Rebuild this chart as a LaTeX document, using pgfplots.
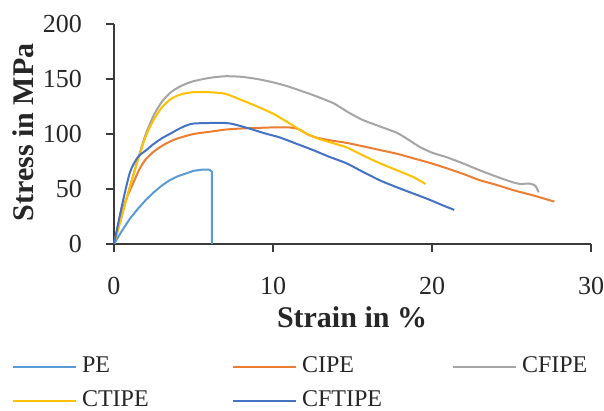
\documentclass[border=0pt]{standalone}
\usepackage{fontspec}
\setmainfont{Liberation Serif}
\usepackage{pgfplots}
\pgfplotsset{compat=1.18}
\definecolor{cPE}{HTML}{5B9BD5}
\definecolor{cCIPE}{HTML}{ED7D31}
\definecolor{cCFIPE}{HTML}{A5A5A5}
\definecolor{cCTIPE}{HTML}{FFC000}
\definecolor{cCFTIPE}{HTML}{4472C4}
\definecolor{axcol}{HTML}{3A3A3A}
\begin{document}
\begin{tikzpicture}
\begin{axis}[
  at={(0,0)}, anchor=south west,
  scale only axis, width=477pt, height=220pt,
  xmin=0, xmax=30, ymin=0, ymax=200,
  axis lines*=left,
  axis line style={line width=1.2pt, color=axcol},
  tick align=outside, tick pos=left,
  major tick length=8pt,
  tick style={line width=1.2pt, color=axcol},
  xtick={0,10,20,30}, ytick={0,50,100,150,200},
  /pgf/number format/assume math mode=true,
  ticklabel style={font=\fontsize{26}{28}\selectfont, text=black!85, inner sep=0pt},
  xticklabel style={anchor=north, yshift=-25pt},
  yticklabel style={anchor=east, xshift=-24pt},
  xlabel={Strain in \%},
  ylabel={Stress in MPa},
  label style={font=\fontsize{30}{32}\selectfont\bfseries, text=black!85, inner sep=0pt},
  xlabel style={at={(0.499,-0.3818)}, anchor=base},
  ylabel style={at={(-0.1698,0.507)}, anchor=base, rotate=0},
  legend columns=3,
  legend cell align=left,
  legend style={at={(-0.2138,-0.5318)}, anchor=north west, draw=none, fill=none,
    inner sep=0pt, outer sep=0pt, font=\fontsize{24}{26}\selectfont, text=black!85,
    row sep=22pt, nodes={inner sep=0pt, text height=12pt, text depth=0pt},
    /tikz/every odd column/.append style={column sep=5pt},
    /tikz/every even column/.append style={column sep=0pt}},
  legend image code/.code={\draw[#1] (0pt,0pt) -- (63pt,0pt);},
  every axis plot/.append style={line width=2pt, line join=round},
]
\addplot[cPE] coordinates {(0,0)(0.5,12)(1,23)(1.5,32)(2,40)(2.5,47)(3,53)(3.5,58)(4,61.5)(4.5,64)(5,66.5)(5.5,67.5)(6,67.5)(6.15,66)(6.15,0)};
\addlegendentry{\makebox[150pt][l]{PE}}
\addplot[cCIPE, smooth, tension=0.4] coordinates {(0,0)(0.4,25)(0.8,42)(1.2,55)(1.6,68)(2,77)(2.5,84)(3,89)(3.5,93)(4,96)(5,100)(6,102)(7,104)(8,105)(9,105.5)(10,106)(11,106)(11.6,104.5)(12.2,99.5)(12.8,96.5)(13.7,94)(14.6,92)(15.6,89)(16.7,85.5)(17.8,82)(18.8,78)(19.8,74)(20.9,69)(22,63.5)(23,58)(24,54)(25.1,49)(26.4,44)(27.7,38.5)};
\addlegendentry{\makebox[150pt][l]{CIPE}}
\addplot[cCFIPE, smooth, tension=0.4] coordinates {(0,0)(0.5,26)(1,52)(1.5,77)(2,100)(2.5,117)(3,129)(3.5,137)(4,142)(4.5,145.5)(5,148)(6,151)(7,152.5)(8,152)(9,150)(10,147)(11,143)(12,138)(12.5,135.5)(13.8,128)(14.7,120)(15.6,113)(16.7,107)(17.8,101)(18.5,95)(19.2,88.5)(20,83)(20.9,79)(22,73)(23,67)(24.1,61)(25.1,56)(25.6,54.5)(26.1,55)(26.5,53)(26.7,47)};
\addlegendentry{\makebox[150pt][l]{CFIPE}}
\addplot[cCTIPE, smooth, tension=0.4] coordinates {(0,0)(0.5,26)(1,52)(1.5,76)(2,98)(2.5,113)(3,124)(3.5,131)(4,135)(4.5,137)(5,138)(6,138)(7,136.5)(8,131)(9,125)(10,118.5)(11,110)(12,101)(12.8,96)(13.7,92)(14.6,88)(15.6,81)(16.7,73.5)(17.8,67)(18.8,61)(19.3,57)(19.6,54.5)};
\addlegendentry{\makebox[150pt][l]{CTIPE}}
\addplot[cCFTIPE, smooth, tension=0.4] coordinates {(0,0)(0.5,35)(1,65)(1.5,79)(2,85)(2.5,91)(3,96)(3.5,100)(4,104)(4.5,107.5)(5,109.5)(6,110)(7,110)(7.5,109)(8.5,105)(9.5,100.5)(10.4,97)(11.5,91)(12.5,85.5)(13.5,79.5)(14.6,73.5)(15.6,66)(16.7,58)(17.8,51.5)(18.8,46)(19.8,40.5)(20.7,35)(21.4,31)};
\addlegendentry{\makebox[150pt][l]{CFTIPE}}
\end{axis}
\pgfresetboundingbox
\path[use as bounding box] (-114pt,-167pt) rectangle (490pt,244pt);
\end{tikzpicture}
\end{document}
